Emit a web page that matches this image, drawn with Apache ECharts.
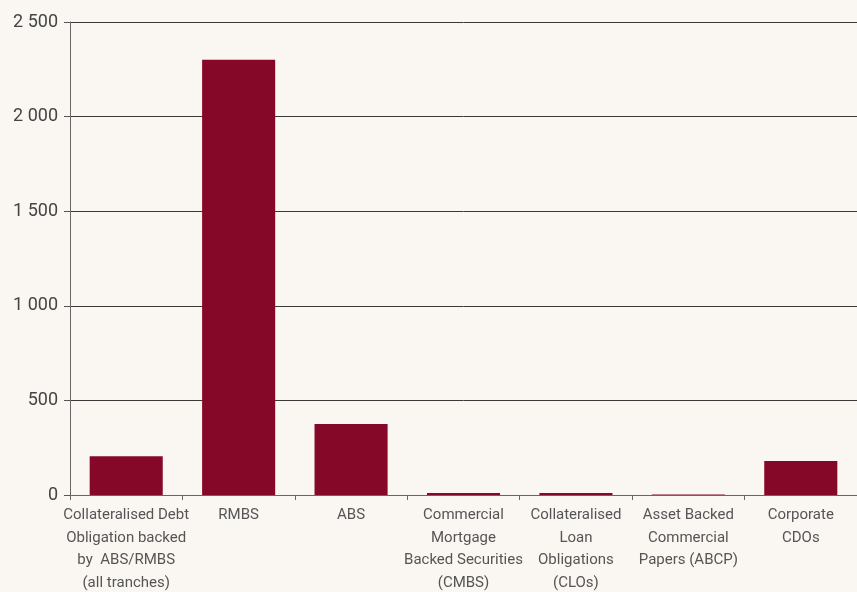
<!DOCTYPE html>
<html>
<head>
<meta charset="utf-8">
<script src="https://cdn.jsdelivr.net/npm/echarts@6/dist/echarts.min.js"></script>
<style>
html,body{margin:0;padding:0;background:#faf7f2;}
#c{width:857px;height:592px;}
</style>
</head>
<body>
<div id="c"></div>
<script>
const categories = [
  "Collateralised Debt\nObligation backed\nby  ABS/RMBS\n(all tranches)",
  "RMBS",
  "ABS",
  "Commercial\nMortgage\nBacked Securities\n(CMBS)",
  "Collateralised\nLoan\nObligations\n(CLOs)",
  "Asset Backed\nCommercial\nPapers (ABCP)",
  "Corporate\nCDOs"
];
const values = [205, 2300, 375, 10, 10, 3, 180];
const yTicks = [0, 500, 1000, 1500, 2000, 2500];

const chart = echarts.init(document.getElementById('c'));
chart.setOption({
  backgroundColor: '#faf7f2',
  animation: false,
  grid: {left: 70, right: 0, top: 22, bottom: 97, containLabel: false, outerBoundsMode: 'none'},
  xAxis: {
    type: 'category',
    data: categories,
    axisLine: {lineStyle: {color: '#666', width: 1}},
    axisTick: {show: true, length: 5, lineStyle: {color: '#666'}},
    axisLabel: {interval: 0, color: '#555', fontSize: 15, lineHeight: 22.5, margin: 9, fontFamily: 'Roboto'}
  },
  yAxis: {
    type: 'value',
    min: 0, max: 2500, interval: 500,
    axisLine: {show: true, lineStyle: {color: '#666', width: 1}},
    axisTick: {show: true, length: 6, lineStyle: {color: '#555'}},
    splitLine: {lineStyle: {color: '#3a3a3a', width: 1}},
    axisLabel: {
      color: '#444', fontSize: 18, margin: 12, fontFamily: 'Roboto',
      formatter: v => yTicks.includes(v) ? String(v).replace(/\B(?=(\d{3})+(?!\d))/g, ' ') : ''
    }
  },
  series: [{
    type: 'bar',
    data: values,
    barWidth: '65%',
    itemStyle: {color: '#850829'}
  }]
});
</script>
</body>
</html>
